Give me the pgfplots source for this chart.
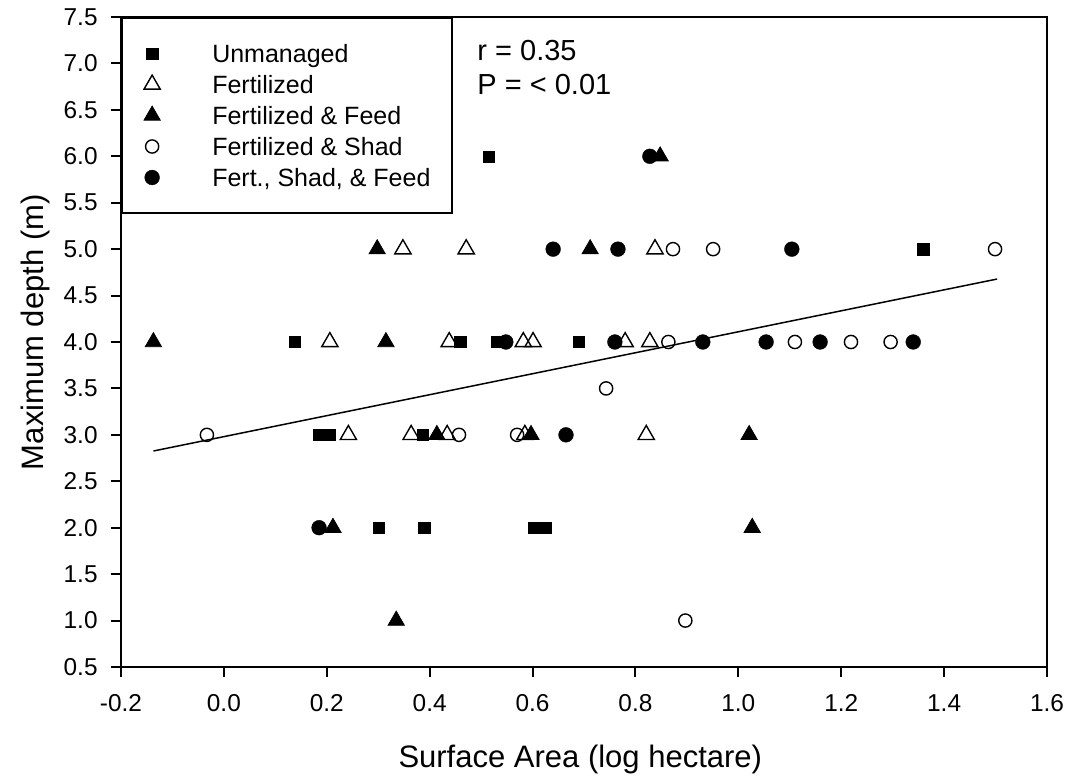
\documentclass[border=0pt]{standalone}
\usepackage{fontspec}
\setmainfont{Liberation Sans}
\usepackage{pgfplots}
\pgfplotsset{compat=1.18}

\pgfplotsset{
  ptmarks/.style={only marks,
    legend image code/.code={\draw[mark repeat=2,mark phase=2,##1]
      plot coordinates {(0pt,0pt) (12.5pt,0pt) (25pt,0pt)};}},
}

\begin{document}
\begin{tikzpicture}
\begin{axis}[
  at={(0,0)}, anchor=south west,
  scale only axis, width=463pt, height=325pt,
  xmin=-0.2, xmax=1.6, ymin=0.5, ymax=7.5,
  xtick={-0.2,0,0.2,0.4,0.6,0.8,1.0,1.2,1.4,1.6},
  ytick={0.5,1,1.5,2,2.5,3,3.5,4,4.5,5,5.5,6,6.5,7,7.5},
  tick align=outside, tick pos=left,
  major tick length=5pt,
  every tick/.style={black, line width=1pt},
  axis line style={line width=1pt},
  /pgf/number format/.cd, fixed, fixed zerofill, precision=1, assume math mode=true,
  /pgfplots/.cd,
  xticklabel style={font=\fontsize{12.2}{14}\selectfont, anchor=base, inner sep=0pt, yshift=-17.5pt},
  yticklabel style={font=\fontsize{12.2}{14}\selectfont, anchor=east, inner sep=0pt, xshift=-6.5pt},
  xlabel={Surface Area (log hectare)},
  ylabel={Maximum depth (m)},
  xlabel style={at={(axis description cs:0.496,0)}, anchor=base, yshift=-50.5pt,
    inner sep=0pt, font=\fontsize{15.5}{18}\selectfont},
  ylabel style={at={(axis description cs:-0.108,0.515)}, anchor=north,
    inner sep=0pt, font=\fontsize{15.5}{18}\selectfont},
  legend style={at={(0,1)}, anchor=north west, draw=black, line width=1pt, fill=white,
    inner xsep=11pt, inner ysep=10pt, column sep=26pt,
    font=\fontsize{12.5}{15}\selectfont,
    nodes={inner sep=0pt, text height=12.5pt, text depth=3pt},
    cells={anchor=west}},
  clip=false,
]
% Unmanaged
\addplot[ptmarks, mark=square*, mark size=2.8pt, mark options={fill=black, draw=black, line width=0.1pt}]
  coordinates {(0.515,6) (1.359,5) (0.138,4) (0.459,4) (0.531,4) (0.690,4)
    (0.185,3) (0.205,3) (0.387,3) (0.300,2) (0.389,2) (0.603,2) (0.626,2)};
\addlegendentry{Unmanaged}
% Fertilized
\addplot[ptmarks, mark=triangle, mark size=4.7pt, mark options={draw=black, line width=0.7pt}]
  coordinates {(0.348,5) (0.471,5) (0.838,5) (0.206,4) (0.438,4) (0.582,4)
    (0.601,4) (0.780,4) (0.828,4) (0.242,3) (0.364,3) (0.434,3) (0.585,3) (0.821,3)};
\addlegendentry{Fertilized}
% Fertilized & Feed
\addplot[ptmarks, mark=triangle*, mark size=4.7pt, mark options={fill=black, draw=black, line width=0.4pt}]
  coordinates {(0.848,6) (0.298,5) (0.712,5) (-0.137,4) (0.315,4) (0.414,3)
    (0.597,3) (1.021,3) (0.212,2) (1.027,2) (0.335,1)};
\addlegendentry{Fertilized \& Feed}
% Fertilized & Shad
\addplot[ptmarks, mark=o, mark size=3.3pt, mark options={draw=black, line width=0.7pt}]
  coordinates {(0.873,5) (0.951,5) (1.499,5) (0.864,4) (1.110,4) (1.219,4)
    (1.296,4) (0.743,3.5) (-0.033,3) (0.457,3) (0.570,3) (0.897,1)};
\addlegendentry{Fertilized \& Shad}
% Fert., Shad, & Feed
\addplot[ptmarks, mark=*, mark size=3.7pt, mark options={fill=black, draw=black, line width=0.2pt}]
  coordinates {(0.828,6) (0.640,5) (0.766,5) (1.104,5) (0.548,4) (0.760,4)
    (0.931,4) (1.054,4) (1.159,4) (1.340,4) (0.665,3) (0.185,2)};
\addlegendentry{Fert., Shad, \& Feed}
% Regression line
\addplot[black, line width=0.75pt, forget plot] coordinates {(-0.137,2.826) (1.503,4.678)};

\node[anchor=base west, inner sep=0pt, font=\fontsize{14.5}{17}\selectfont]
  at (axis description cs:0.3845,0.9328) {r = 0.35};
\node[anchor=base west, inner sep=0pt, font=\fontsize{14.5}{17}\selectfont]
  at (axis description cs:0.3845,0.8815) {P = < 0.01};
\end{axis}
\pgfresetboundingbox
\path[use as bounding box] (-60.5pt,-56.5pt) rectangle (476pt,333.5pt);
\end{tikzpicture}
\end{document}
